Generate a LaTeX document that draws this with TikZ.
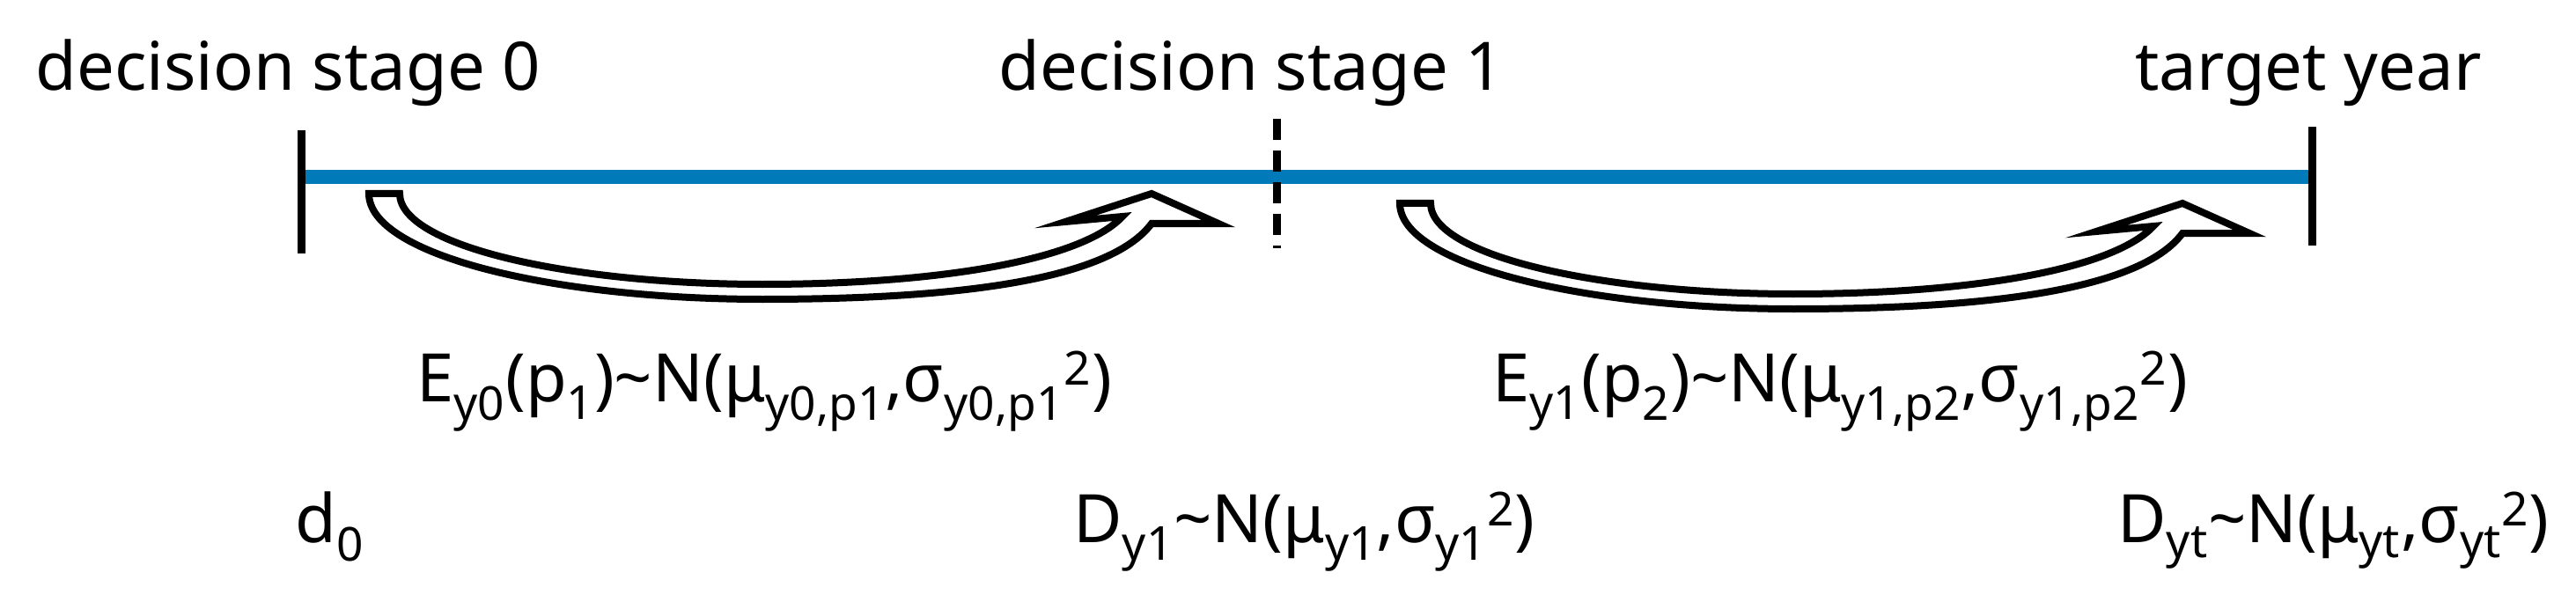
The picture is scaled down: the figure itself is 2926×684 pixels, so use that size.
\documentclass[tikz,border=0pt]{standalone}
\usepackage{fontspec}
\setmainfont{Noto Sans}
\newcommand{\sbx}[1]{\textsubscript{#1}}
\newcommand{\spx}[1]{\textsuperscript{#1}}
\newcommand{\tld}{\textasciitilde}
\begin{document}
\begin{tikzpicture}[x=0.5pt,y=-0.5pt,
  lbl/.style={anchor=base west,inner sep=0pt,font=\fontsize{38}{40}\selectfont},
  tick/.style={line width=4.5pt,black},
  axis/.style={line width=8pt,color={rgb,255:red,0;green,122;blue,184}},
  barrow/.style={line width=4pt,black,fill=white,line join=miter}]
\useasboundingbox (0,0) rectangle (2926,684);
\coordinate (t0a) at (342,148); \coordinate (t0b) at (342,288);
\coordinate (t1a) at (2626,144); \coordinate (t1b) at (2626,279);
\coordinate (l0) at (342,201); \coordinate (l1) at (2626,201);
\coordinate (da) at (1450,135); \coordinate (db) at (1450,282);
\draw[axis] (l0) -- (l1);
\draw[tick] (t0a) -- (t0b);
\draw[tick] (t1a) -- (t1b);
\draw[line width=4.5pt,dash pattern=on 12pt off 6pt] (da) -- (db);
\foreach \ox/\oy/\nm in {429/220/a1,1600/231/a2}{
  \begin{scope}[shift={(\ox,\oy)}]
  \draw[barrow] (-10,0) -- (25,0)
     .. controls (25,60) and (220,103) .. (437,103)
     .. controls (640,103) and (800,75) .. (846,26)
     -- (781,32) -- (879,0) -- (955,34) -- (879,34)
     .. controls (830,100) and (650,120) .. (437,120)
     .. controls (200,120) and (-10,70) .. cycle;
  \end{scope}
}
\node[lbl] (s0) at (40,103) {decision stage 0};
\node[lbl] (s1) at (1134,103) {decision stage 1};
\node[lbl] (ty) at (2425,103) {target year};
\node[lbl] (e0) at (473,456) {E\sbx{y0}(p\sbx{1})\tld N(μ\sbx{y0,p1},σ\sbx{y0,p1}\spx{2})};
\node[lbl] (e1) at (1695,456) {E\sbx{y1}(p\sbx{2})\tld N(μ\sbx{y1,p2},σ\sbx{y1,p2}\spx{2})};
\node[lbl] (d0) at (335,616) {d\sbx{0}};
\node[lbl] (d1) at (1219,616) {D\sbx{y1}\tld N(μ\sbx{y1},σ\sbx{y1}\spx{2})};
\node[lbl] (dt) at (2405,616) {D\sbx{yt}\tld N(μ\sbx{yt},σ\sbx{yt}\spx{2})};
\end{tikzpicture}
\end{document}
